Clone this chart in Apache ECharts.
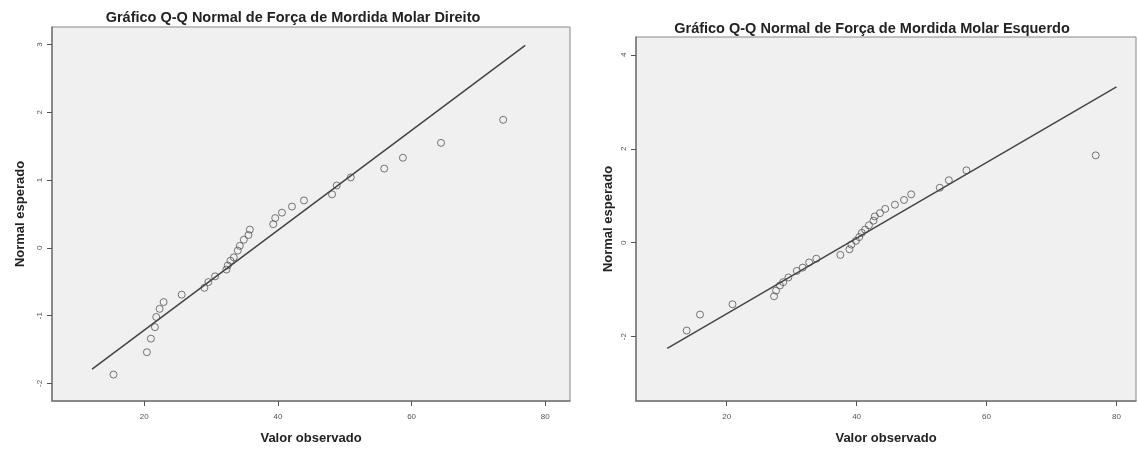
<!DOCTYPE html>
<html>
<head>
<meta charset="utf-8">
<script src="https://cdn.jsdelivr.net/npm/echarts@6/dist/echarts.min.js"></script>
<style>
html,body{margin:0;padding:0;background:#fff;}
#chart{width:1139px;height:450px;}
</style>
</head>
<body>
<div id="chart"></div>
<script>
// ---- Data ----
const titleLeft = 'Gráfico Q-Q Normal de Força de Mordida Molar Direito';
const titleRight = 'Gráfico Q-Q Normal de Força de Mordida Molar Esquerdo';
const xAxisName = 'Valor observado';
const yAxisName = 'Normal esperado';

const xTicks = [20, 40, 60, 80];
const yTicksLeft = [-2, -1, 0, 1, 2, 3];
const yTicksRight = [-2, 0, 2, 4];

// Left chart: observed values and expected normal values
const leftObserved = [15.4, 20.4, 21.0, 21.6, 21.8, 22.3, 22.9, 25.6, 29.0, 29.6, 30.6, 32.3, 32.5, 32.9, 33.4, 34.0, 34.3, 34.9, 35.6, 35.8, 39.3, 39.6, 40.6, 42.1, 43.9, 48.1, 48.8, 50.9, 55.9, 58.7, 64.4, 73.7];
const leftExpected = [-1.87, -1.54, -1.34, -1.17, -1.02, -0.90, -0.80, -0.69, -0.59, -0.505, -0.42, -0.32, -0.26, -0.19, -0.14, -0.04, 0.03, 0.12, 0.19, 0.27, 0.35, 0.44, 0.52, 0.61, 0.70, 0.79, 0.92, 1.04, 1.17, 1.33, 1.55, 1.89];
const leftLineX = [12.2, 77.0];
const leftLineY = [-1.79, 2.99];

// Right chart
const rightObserved = [13.85, 15.9, 20.9, 27.3, 27.6, 28.2, 28.7, 29.5, 30.8, 31.7, 32.7, 33.8, 37.5, 38.9, 39.2, 39.9, 40.4, 40.8, 41.3, 41.9, 42.6, 42.8, 43.6, 44.4, 45.9, 47.3, 48.4, 52.8, 54.2, 56.9, 76.8];
const rightExpected = [-1.87, -1.53, -1.31, -1.14, -1.02, -0.91, -0.84, -0.74, -0.60, -0.53, -0.42, -0.34, -0.26, -0.14, -0.04, 0.04, 0.12, 0.21, 0.28, 0.37, 0.47, 0.56, 0.63, 0.72, 0.81, 0.91, 1.03, 1.17, 1.33, 1.54, 1.86];
const rightLineX = [10.86, 80.0];
const rightLineY = [-2.25, 3.32];

// ---- Build ----
const pairs = (xs, ys) => xs.map((x, i) => [x, ys[i]]);
const FONT = '"Liberation Sans", Arial, sans-serif';

function xAxisCfg(gridIndex, min, max) {
  return {
    type: 'value', gridIndex, min, max,
    name: xAxisName, nameLocation: 'middle', nameGap: 31,
    nameTextStyle: { fontFamily: FONT, fontWeight: 'bold', fontSize: 13, color: '#222' },
    splitLine: { show: false },
    axisLine: { show: true, onZero: false, lineStyle: { color: '#777', width: 1.5 } },
    axisTick: { show: true, inside: false, length: 5, customValues: xTicks, lineStyle: { color: '#555' } },
    axisLabel: { customValues: xTicks, margin: 12, fontFamily: FONT, fontSize: 8, color: '#555' }
  };
}
function yAxisCfg(gridIndex, min, max, ticks, gap) {
  return {
    type: 'value', gridIndex, min, max,
    name: yAxisName, nameLocation: 'middle', nameGap: gap, nameRotate: 90,
    nameTextStyle: { fontFamily: FONT, fontWeight: 'bold', fontSize: 13, color: '#222' },
    splitLine: { show: false },
    axisLine: { show: true, onZero: false, lineStyle: { color: '#777', width: 1.5 } },
    axisTick: { show: true, inside: false, length: 5, customValues: ticks, lineStyle: { color: '#555' } },
    axisLabel: { customValues: ticks, rotate: 90, margin: 8, fontFamily: FONT, fontSize: 8, color: '#555' }
  };
}
const scatterStyle = { color: 'rgba(0,0,0,0)', borderColor: '#555', borderWidth: 1 };
const lineStyle = { color: '#444', width: 1.5 };

const option = {
  animation: false,
  backgroundColor: '#fff',
  title: [
    { text: titleLeft, left: 288, top: 5, textAlign: 'center',
      textStyle: { fontFamily: FONT, fontWeight: 'bold', fontSize: 14.5, color: '#222' } },
    { text: titleRight, left: 867, top: 16, textAlign: 'center',
      textStyle: { fontFamily: FONT, fontWeight: 'bold', fontSize: 14.5, color: '#222' } }
  ],
  grid: [
    { left: 52, top: 27, width: 518, height: 376, show: true, backgroundColor: '#f0f0f0', borderColor: '#888', borderWidth: 1 },
    { left: 636, top: 37, width: 500, height: 367, show: true, backgroundColor: '#f0f0f0', borderColor: '#888', borderWidth: 1 }
  ],
  xAxis: [ xAxisCfg(0, 6.2, 83.7), xAxisCfg(1, 6.05, 83.0) ],
  yAxis: [ yAxisCfg(0, -2.26, 3.26, yTicksLeft, 25), yAxisCfg(1, -3.37, 4.38, yTicksRight, 21) ],
  series: [
    { type: 'scatter', xAxisIndex: 0, yAxisIndex: 0, symbol: 'circle', symbolSize: 7,
      itemStyle: scatterStyle, data: pairs(leftObserved, leftExpected) },
    { type: 'line', xAxisIndex: 0, yAxisIndex: 0, symbol: 'none', lineStyle,
      data: pairs(leftLineX, leftLineY) },
    { type: 'scatter', xAxisIndex: 1, yAxisIndex: 1, symbol: 'circle', symbolSize: 7,
      itemStyle: scatterStyle, data: pairs(rightObserved, rightExpected) },
    { type: 'line', xAxisIndex: 1, yAxisIndex: 1, symbol: 'none', lineStyle,
      data: pairs(rightLineX, rightLineY) }
  ]
};
const chart = echarts.init(document.getElementById('chart'), null, { renderer: 'canvas' });
chart.setOption(option);
</script>
</body>
</html>
